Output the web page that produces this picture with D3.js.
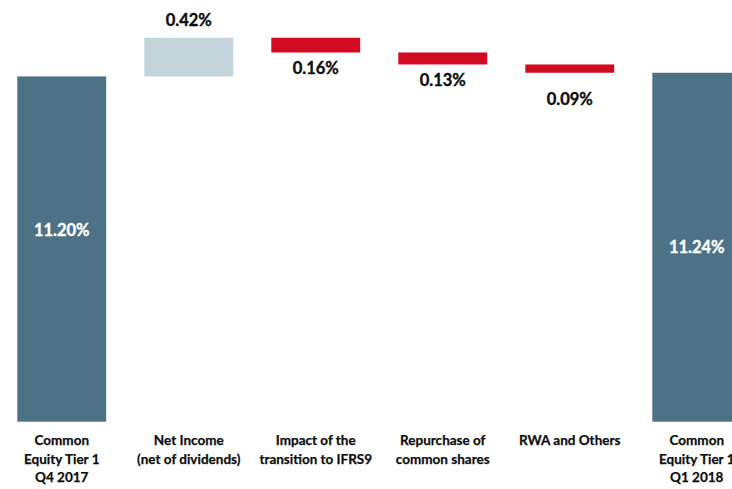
<!DOCTYPE html>
<html>
<head>
<meta charset="utf-8">
<script src="https://cdn.jsdelivr.net/npm/d3@7"></script>
<style>
  html, body { margin: 0; padding: 0; background: #fff; overflow: hidden; }
  svg { display: block; }
  text { font-family: Lato, "Open Sans", sans-serif; font-weight: bold; }
</style>
</head>
<body>
<svg id="chart" width="732" height="489"></svg>
<script>
// ---- data ----
const categories = [
  ["Common", "Equity Tier 1", "Q4 2017"],
  ["Net Income", "(net of dividends)"],
  ["Impact of the", "transition to IFRS9"],
  ["Repurchase of", "common shares"],
  ["RWA and Others"],
  ["Common", "Equity Tier 1", "Q1 2018"]
];
const kinds = ["total", "delta", "delta", "delta", "delta", "total"];
const values = [11.20, 0.42, -0.16, -0.13, -0.09, 11.24];
const axisRange = [7.45, 12.03];

// ---- build waterfall ----
let running = 0;
const rows = values.map((v, i) => {
  let lo, hi;
  if (kinds[i] === "total") { lo = axisRange[0]; hi = v; running = v; }
  else { const s = running; running = +(running + v).toFixed(4); lo = Math.min(s, running); hi = Math.max(s, running); }
  return { i, v, kind: kinds[i], lo, hi, lines: categories[i] };
});

const svg = d3.select("#chart");
const x = d3.scaleBand().domain(d3.range(categories.length))
  .range([-1.75, 760.25]).paddingInner(0.3).paddingOuter(0.15);
const y = d3.scaleLinear().domain(axisRange).range([421.7, 0]);

const colorOf = d => d.kind === "total" ? "#4e7285" : (d.v >= 0 ? "#c3d4db" : "#d10a21");

svg.selectAll("rect.bar").data(rows).join("rect")
  .attr("class", "bar")
  .attr("x", d => x(d.i))
  .attr("width", x.bandwidth())
  .attr("y", d => y(d.hi))
  .attr("height", d => y(d.lo) - y(d.hi))
  .attr("fill", colorOf);

const fmt = v => Math.abs(v).toFixed(2) + "%";

// value labels
svg.selectAll("text.val").data(rows).join("text")
  .attr("class", "val")
  .attr("text-anchor", "middle")
  .attr("font-size", 16.5)
  .attr("x", d => x(d.i) + x.bandwidth() / 2)
  .attr("y", d => {
    if (d.kind === "total") return d.i === 0 ? 236 : (y(d.hi) + y(d.lo)) / 2 + 6;
    if (d.v >= 0) return y(d.hi) - 12;
    return y(d.lo) + (d.i === 4 ? 32 : 22);
  })
  .attr("fill", d => d.kind === "total" ? "#ffffff" : "#0d0d0d")
  .attr("stroke", d => d.kind === "total" ? "#ffffff" : "#0d0d0d")
  .attr("stroke-width", 0.35)
  .text(d => fmt(d.v));

// category labels
const cat = svg.selectAll("g.cat").data(rows).join("g")
  .attr("class", "cat")
  .attr("transform", d => `translate(${x(d.i) + x.bandwidth() / 2},0)`);
cat.selectAll("text").data(d => d.lines).join("text")
  .attr("text-anchor", "middle")
  .attr("font-size", 13.5)
  .attr("fill", "#0d0d0d")
  .attr("stroke", "#0d0d0d")
  .attr("stroke-width", 0.25)
  .attr("y", (t, j) => 445 + j * 18.5)
  .text(t => t);
</script>
</body>
</html>
